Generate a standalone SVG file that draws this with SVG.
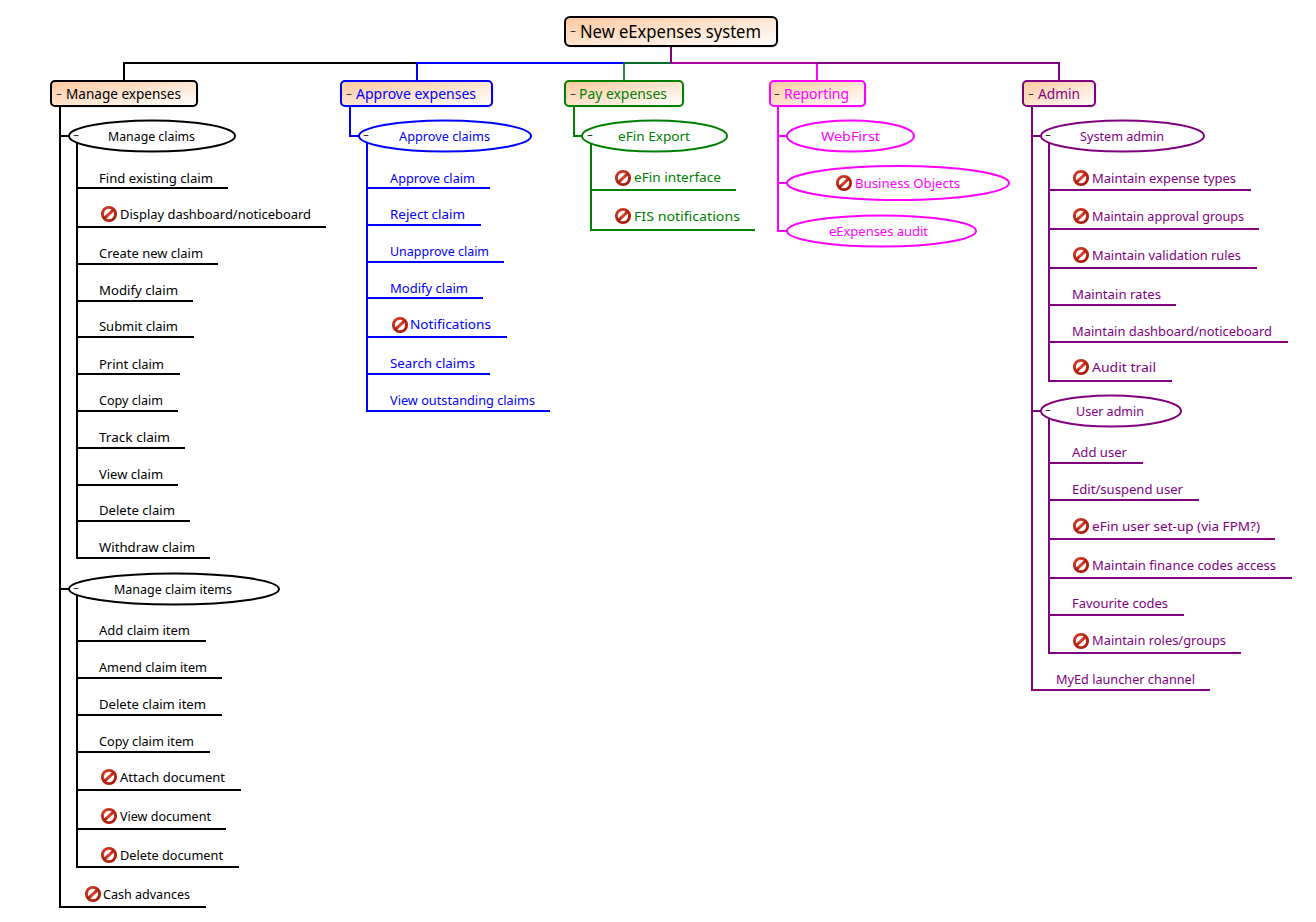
<svg xmlns="http://www.w3.org/2000/svg" xmlns:xlink="http://www.w3.org/1999/xlink" width="1316" height="922" viewBox="0 0 1316 922">
<style>
text{font-family:"Noto Sans","DejaVu Sans",sans-serif;font-size:13px;fill:currentColor}
.k{color:#000}.b{color:#0000ff}.g{color:#008000}.m{color:#ff00ff}.p{color:#800080}
.l{fill:none;stroke:currentColor;stroke-width:2}
.box{fill:url(#nodefill);stroke:currentColor;stroke-width:2}
.ell{fill:#fff;stroke:currentColor;stroke-width:2}
.shadow{fill:#000;opacity:.06}
.main{font-size:14px}.root{font-size:18px}
.minus{font-size:13px;fill:#333}
</style>
<defs>
<linearGradient id="nodefill" x1="0" y1="0" x2="1" y2="1"><stop offset="0" stop-color="#fdc89e"/><stop offset="1" stop-color="#ffffff"/></linearGradient>
<radialGradient id="stopring" cx=".4" cy=".35" r=".75"><stop offset="0" stop-color="#e8503a"/><stop offset="1" stop-color="#a81808"/></radialGradient>
<g id="stop"><circle r="6.6" fill="#fff" stroke="url(#stopring)" stroke-width="2.9"/><path d="M-5 4.6L5-4.6" stroke="url(#stopring)" stroke-width="2.9" fill="none"/></g>
</defs>
<g id="connectors">
<g class="k"><path class="l" d="M671 63H124V81"/><path class="l" d="M60 106V907H206M60 136H69M77 142V558H99M77 188H228M77 227H326M77 264H218M77 301H193M77 337H194M77 374H180M77 411H178M77 448H185M77 485H178M77 521H190M77 558H210M60 589H69M77 595V867H239M77 641H206M77 678H222M77 715H222M77 752H210M77 790H241M77 829H226"/></g>
<g class="b"><path class="l" d="M671 63H417V81"/><path class="l" d="M350 106V136H359M367 142V411H550M367 188H490M367 225H481M367 262H504M367 298H483M367 337H507M367 374H490"/></g>
<g class="g"><path class="l" d="M671 63H624V81" stroke-opacity=".85"/><path class="l" d="M574 106V136H582M591 142V230H755M591 190H736"/></g>
<g class="m"><path class="l" d="M671 63H817V81"/><path class="l" d="M778 106V231H787M778 136H787M778 183H787"/></g>
<g class="p"><path class="l" d="M671 63H817" stroke-opacity=".7"/><path class="l" d="M817 63H1059V81"/><path class="l" d="M671 46V63"/><path class="l" d="M1032 106V690H1210M1032 136H1041M1032 411H1041M1049 142V381H1172M1049 190H1251M1049 229H1259M1049 268H1257M1049 305H1176M1049 342H1288M1049 417V653H1241M1049 463H1143M1049 500H1199M1049 539H1275M1049 578H1292M1049 615H1184"/></g>
</g>
<g id="root" class="k"><rect class="shadow" x="567" y="19" width="212" height="29" rx="5"/><rect class="box" x="565" y="17" width="212" height="29" rx="5"/><text class="minus" x="570" y="35" textLength="6" lengthAdjust="spacingAndGlyphs">-</text><text class="root" x="580" y="38" textLength="181" lengthAdjust="spacingAndGlyphs">New eExpenses system</text></g>

<g id="manage-expenses" class="k"><rect class="shadow" x="53" y="83" width="146" height="25" rx="4"/><rect class="box" x="51" y="81" width="146" height="25" rx="4"/><text class="minus" x="56" y="98" textLength="6" lengthAdjust="spacingAndGlyphs">-</text><text class="main" x="66" y="99" textLength="115" lengthAdjust="spacingAndGlyphs">Manage expenses</text></g>
<g id="manage-claims" class="k"><ellipse class="ell" cx="152" cy="136" rx="83" ry="15.5"/><text class="minus" x="73" y="139" textLength="6" lengthAdjust="spacingAndGlyphs">-</text><text x="108" y="141" textLength="87" lengthAdjust="spacingAndGlyphs">Manage claims</text></g>
<g id="find-existing-claim" class="k"><text x="99" y="183" textLength="114" lengthAdjust="spacingAndGlyphs">Find existing claim</text></g>
<g id="display-dashboard" class="k"><use href="#stop" x="109" y="214"/><text x="120" y="219" textLength="191" lengthAdjust="spacingAndGlyphs">Display dashboard/noticeboard</text></g>
<g id="create-new-claim" class="k"><text x="99" y="258" textLength="104" lengthAdjust="spacingAndGlyphs">Create new claim</text></g>
<g id="modify-claim" class="k"><text x="99" y="295" textLength="79" lengthAdjust="spacingAndGlyphs">Modify claim</text></g>
<g id="submit-claim" class="k"><text x="99" y="331" textLength="79" lengthAdjust="spacingAndGlyphs">Submit claim</text></g>
<g id="print-claim" class="k"><text x="99" y="369" textLength="65" lengthAdjust="spacingAndGlyphs">Print claim</text></g>
<g id="copy-claim" class="k"><text x="99" y="405" textLength="64" lengthAdjust="spacingAndGlyphs">Copy claim</text></g>
<g id="track-claim" class="k"><text x="99" y="442" textLength="71" lengthAdjust="spacingAndGlyphs">Track claim</text></g>
<g id="view-claim" class="k"><text x="99" y="479" textLength="64" lengthAdjust="spacingAndGlyphs">View claim</text></g>
<g id="delete-claim" class="k"><text x="99" y="515" textLength="76" lengthAdjust="spacingAndGlyphs">Delete claim</text></g>
<g id="withdraw-claim" class="k"><text x="99" y="552" textLength="96" lengthAdjust="spacingAndGlyphs">Withdraw claim</text></g>
<g id="manage-claim-items" class="k"><ellipse class="ell" cx="174" cy="589" rx="105" ry="15.5"/><text class="minus" x="73" y="592" textLength="6" lengthAdjust="spacingAndGlyphs">-</text><text x="114" y="594" textLength="118" lengthAdjust="spacingAndGlyphs">Manage claim items</text></g>
<g id="add-claim-item" class="k"><text x="99" y="635" textLength="91" lengthAdjust="spacingAndGlyphs">Add claim item</text></g>
<g id="amend-claim-item" class="k"><text x="99" y="672" textLength="108" lengthAdjust="spacingAndGlyphs">Amend claim item</text></g>
<g id="delete-claim-item" class="k"><text x="99" y="709" textLength="107" lengthAdjust="spacingAndGlyphs">Delete claim item</text></g>
<g id="copy-claim-item" class="k"><text x="99" y="746" textLength="95" lengthAdjust="spacingAndGlyphs">Copy claim item</text></g>
<g id="attach-document" class="k"><use href="#stop" x="109" y="777"/><text x="120" y="782" textLength="105" lengthAdjust="spacingAndGlyphs">Attach document</text></g>
<g id="view-document" class="k"><use href="#stop" x="109" y="816"/><text x="120" y="821" textLength="91" lengthAdjust="spacingAndGlyphs">View document</text></g>
<g id="delete-document" class="k"><use href="#stop" x="109" y="855"/><text x="120" y="860" textLength="103" lengthAdjust="spacingAndGlyphs">Delete document</text></g>
<g id="cash-advances" class="k"><use href="#stop" x="93" y="894"/><text x="103" y="899" textLength="87" lengthAdjust="spacingAndGlyphs">Cash advances</text></g>

<g id="approve-expenses" class="b"><rect class="shadow" x="343" y="83" width="151" height="25" rx="4"/><rect class="box" x="341" y="81" width="151" height="25" rx="4"/><text class="minus" x="346" y="98" textLength="6" lengthAdjust="spacingAndGlyphs">-</text><text class="main" x="356" y="99" textLength="120" lengthAdjust="spacingAndGlyphs">Approve expenses</text></g>
<g id="approve-claims" class="b"><ellipse class="ell" cx="445" cy="136" rx="86" ry="15.5"/><text class="minus" x="363" y="139" textLength="6" lengthAdjust="spacingAndGlyphs">-</text><text x="399" y="141" textLength="91" lengthAdjust="spacingAndGlyphs">Approve claims</text></g>
<g id="approve-claim" class="b"><text x="390" y="183" textLength="85" lengthAdjust="spacingAndGlyphs">Approve claim</text></g>
<g id="reject-claim" class="b"><text x="390" y="219" textLength="75" lengthAdjust="spacingAndGlyphs">Reject claim</text></g>
<g id="unapprove-claim" class="b"><text x="390" y="256" textLength="99" lengthAdjust="spacingAndGlyphs">Unapprove claim</text></g>
<g id="modify-claim-2" class="b"><text x="390" y="293" textLength="78" lengthAdjust="spacingAndGlyphs">Modify claim</text></g>
<g id="notifications" class="b"><use href="#stop" x="400" y="325"/><text x="410" y="329" textLength="81" lengthAdjust="spacingAndGlyphs">Notifications</text></g>
<g id="search-claims" class="b"><text x="390" y="368" textLength="85" lengthAdjust="spacingAndGlyphs">Search claims</text></g>
<g id="view-outstanding-claims" class="b"><text x="390" y="405" textLength="145" lengthAdjust="spacingAndGlyphs">View outstanding claims</text></g>

<g id="pay-expenses" class="g"><rect class="shadow" x="567" y="83" width="118" height="25" rx="4"/><rect class="box" x="565" y="81" width="118" height="25" rx="4"/><text class="minus" x="570" y="98" textLength="6" lengthAdjust="spacingAndGlyphs">-</text><text class="main" x="579" y="99" textLength="88" lengthAdjust="spacingAndGlyphs">Pay expenses</text></g>
<g id="efin-export" class="g"><ellipse class="ell" cx="654.500" cy="136" rx="72.500" ry="15.500"/><text class="minus" x="587" y="139" textLength="6" lengthAdjust="spacingAndGlyphs">-</text><text x="618" y="141" textLength="72" lengthAdjust="spacingAndGlyphs">eFin Export</text></g>
<g id="efin-interface" class="g"><use href="#stop" x="623" y="178"/><text x="634" y="182" textLength="87" lengthAdjust="spacingAndGlyphs">eFin interface</text></g>
<g id="fis-notifications" class="g"><use href="#stop" x="623" y="216"/><text x="634" y="221" textLength="106" lengthAdjust="spacingAndGlyphs">FIS notifications</text></g>

<g id="reporting" class="m"><rect class="shadow" x="772" y="83" width="95" height="25" rx="4"/><rect class="box" x="770" y="81" width="95" height="25" rx="4"/><text class="minus" x="774" y="98" textLength="6" lengthAdjust="spacingAndGlyphs">-</text><text class="main" x="784" y="99" textLength="65" lengthAdjust="spacingAndGlyphs">Reporting</text></g>
<g id="webfirst" class="m"><ellipse class="ell" cx="850.500" cy="136" rx="63.500" ry="15.500"/><text x="821" y="141" textLength="59" lengthAdjust="spacingAndGlyphs">WebFirst</text></g>
<g id="business-objects" class="m"><ellipse class="ell" cx="898" cy="183" rx="111" ry="17"/><use href="#stop" x="844" y="183"/><text x="855" y="188" textLength="105" lengthAdjust="spacingAndGlyphs">Business Objects</text></g>
<g id="eexpenses-audit" class="m"><ellipse class="ell" cx="881.500" cy="231" rx="94.500" ry="15.500"/><text x="829" y="236" textLength="99" lengthAdjust="spacingAndGlyphs">eExpenses audit</text></g>

<g id="admin" class="p"><rect class="shadow" x="1025" y="83" width="72" height="25" rx="4"/><rect class="box" x="1023" y="81" width="72" height="25" rx="4"/><text class="minus" x="1028" y="98" textLength="6" lengthAdjust="spacingAndGlyphs">-</text><text class="main" x="1038" y="99" textLength="42" lengthAdjust="spacingAndGlyphs">Admin</text></g>
<g id="system-admin" class="p"><ellipse class="ell" cx="1122.500" cy="136" rx="81.500" ry="15.500"/><text class="minus" x="1045" y="139" textLength="6" lengthAdjust="spacingAndGlyphs">-</text><text x="1080" y="141" textLength="84" lengthAdjust="spacingAndGlyphs">System admin</text></g>
<g id="maintain-expense-types" class="p"><use href="#stop" x="1081" y="178"/><text x="1092" y="183" textLength="144" lengthAdjust="spacingAndGlyphs">Maintain expense types</text></g>
<g id="maintain-approval-groups" class="p"><use href="#stop" x="1081" y="216"/><text x="1092" y="221" textLength="152" lengthAdjust="spacingAndGlyphs">Maintain approval groups</text></g>
<g id="maintain-validation-rules" class="p"><use href="#stop" x="1081" y="255"/><text x="1092" y="260" textLength="149" lengthAdjust="spacingAndGlyphs">Maintain validation rules</text></g>
<g id="maintain-rates" class="p"><text x="1072" y="299" textLength="89" lengthAdjust="spacingAndGlyphs">Maintain rates</text></g>
<g id="maintain-dashboard" class="p"><text x="1072" y="336" textLength="200" lengthAdjust="spacingAndGlyphs">Maintain dashboard/noticeboard</text></g>
<g id="audit-trail" class="p"><use href="#stop" x="1081" y="367"/><text x="1092" y="372" textLength="64" lengthAdjust="spacingAndGlyphs">Audit trail</text></g>
<g id="user-admin" class="p"><ellipse class="ell" cx="1111" cy="411" rx="70" ry="15.500"/><text class="minus" x="1045" y="414" textLength="6" lengthAdjust="spacingAndGlyphs">-</text><text x="1076" y="416" textLength="68" lengthAdjust="spacingAndGlyphs">User admin</text></g>
<g id="add-user" class="p"><text x="1072" y="457" textLength="55" lengthAdjust="spacingAndGlyphs">Add user</text></g>
<g id="edit-suspend-user" class="p"><text x="1072" y="494" textLength="111" lengthAdjust="spacingAndGlyphs">Edit/suspend user</text></g>
<g id="efin-user-setup" class="p"><use href="#stop" x="1081" y="526"/><text x="1092" y="531" textLength="168" lengthAdjust="spacingAndGlyphs">eFin user set-up (via FPM?)</text></g>
<g id="maintain-finance-codes" class="p"><use href="#stop" x="1081" y="565"/><text x="1092" y="570" textLength="184" lengthAdjust="spacingAndGlyphs">Maintain finance codes access</text></g>
<g id="favourite-codes" class="p"><text x="1072" y="608" textLength="96" lengthAdjust="spacingAndGlyphs">Favourite codes</text></g>
<g id="maintain-roles" class="p"><use href="#stop" x="1081" y="641"/><text x="1092" y="645" textLength="134" lengthAdjust="spacingAndGlyphs">Maintain roles/groups</text></g>
<g id="myed-launcher" class="p"><text x="1056" y="684" textLength="139" lengthAdjust="spacingAndGlyphs">MyEd launcher channel</text></g>
</svg>
